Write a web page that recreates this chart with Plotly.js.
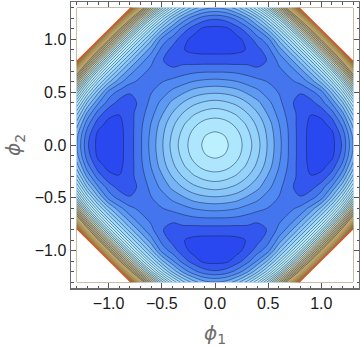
<!DOCTYPE html>
<html>
<head>
<meta charset="utf-8">
<script src="https://cdn.plot.ly/plotly-3.0.1.min.js"></script>
<style>
  html, body { margin: 0; padding: 0; background: #fff; }
  #chart { width: 360px; height: 347px; }
</style>
</head>
<body>
<div id="chart"></div>
<script>
// Grid positions for one quadrant of the surface (the picture is symmetric)
const phiSteps = [0, 0.1, 0.2, 0.3, 0.4, 0.5, 0.6, 0.7, 0.8, 0.9, 1.0, 1.1, 1.2, 1.3];

const row00 = [1.01, 0.99, 0.93, 0.83, 0.71, 0.56, 0.41, 0.26, 0.13, 0.04, 0.00, 0.04, 0.19, 0.48];
const row01 = [0.99, 0.97, 0.91, 0.81, 0.69, 0.55, 0.40, 0.26, 0.13, 0.04, 0.01, 0.05, 0.22, 0.51];
const row02 = [0.93, 0.91, 0.85, 0.76, 0.65, 0.52, 0.38, 0.25, 0.13, 0.05, 0.04, 0.12, 0.31, 0.62];
const row03 = [0.83, 0.81, 0.76, 0.68, 0.58, 0.46, 0.34, 0.23, 0.14, 0.08, 0.11, 0.23, 0.45, 0.81];
const row04 = [0.71, 0.69, 0.65, 0.58, 0.50, 0.40, 0.31, 0.19, 0.15, 0.14, 0.23, 0.39, 0.66, 1.07];
const row05 = [0.56, 0.55, 0.52, 0.46, 0.40, 0.33, 0.27, 0.19, 0.18, 0.24, 0.34, 0.60, 0.94, 1.43];
const row06 = [0.41, 0.40, 0.38, 0.34, 0.31, 0.27, 0.25, 0.25, 0.30, 0.41, 0.60, 0.89, 1.31, 1.89];
const row07 = [0.26, 0.26, 0.25, 0.23, 0.19, 0.19, 0.25, 0.31, 0.42, 0.61, 0.88, 1.26, 1.78, 2.47];
const row08 = [0.13, 0.13, 0.13, 0.14, 0.15, 0.18, 0.30, 0.42, 0.61, 0.88, 1.24, 1.73, 2.36, 3.18];
const row09 = [0.04, 0.04, 0.05, 0.08, 0.14, 0.24, 0.41, 0.61, 0.88, 1.24, 1.71, 2.31, 3.08, 4.03];
const row10 = [0.00, 0.01, 0.04, 0.11, 0.23, 0.34, 0.60, 0.88, 1.24, 1.71, 2.30, 3.04, 3.95, 5.05];
const row11 = [0.04, 0.05, 0.12, 0.23, 0.39, 0.60, 0.89, 1.26, 1.73, 2.31, 3.04, 3.92, 4.99, 6.27];
const row12 = [0.19, 0.22, 0.31, 0.45, 0.66, 0.94, 1.31, 1.78, 2.36, 3.08, 3.95, 4.99, 6.23, 7.70];
const row13 = [0.48, 0.51, 0.62, 0.81, 1.07, 1.43, 1.89, 2.47, 3.18, 4.03, 5.05, 6.27, 7.70, 9.40];
const quadrant = [row00, row01, row02, row03, row04, row05, row06, row07, row08, row09, row10, row11, row12, row13];

// Colour ramp: height -> colour
const rampValues = [0, 0.10, 0.20, 0.35, 0.50, 0.70, 1.00, 1.40, 1.70, 2.20, 2.70, 3.00, 3.20];
const rampColors = ['#2948f0', '#3d66ec', '#4a80f0', '#5a96f3', '#80bdf7', '#98d6fb', '#bdf2ff', '#b4e2e6', '#cfcfa8', '#c9b477', '#a88d55', '#8d7038', '#c9682e'];

// Corners cut off the octagon, and its red edge
const cutX = [0.79, 1.3, 1.3, 0.79, null, -0.79, -1.3, -1.3, -0.79, null, 0.79, 1.3, 1.3, 0.79, null, -0.79, -1.3, -1.3, -0.79];
const cutY = [1.3, 0.79, 1.3, 1.3, null, 1.3, 0.79, 1.3, 1.3, null, -1.3, -0.79, -1.3, -1.3, null, -1.3, -0.79, -1.3, -1.3];
const edgeX = [0.79, 1.3, null, -0.79, -1.3, null, 0.79, 1.3, null, -0.79, -1.3];
const edgeY = [1.3, 0.79, null, 1.3, 0.79, null, -1.3, -0.79, null, -1.3, -0.79];

const tickValues = [-1, -0.5, 0, 0.5, 1];

// Mirror the quadrant out to the full square
function mirrorAxis(values) {
    return values.slice(1).reverse().map(v => -v).concat(values);
}

function mirrorGrid(rows) {
    const fullRows = rows.map(r => r.slice(1).reverse().concat(r));
    return fullRows.slice(1).reverse().concat(fullRows);
}

const phi = mirrorAxis(phiSteps);
const surface = mirrorGrid(quadrant);
const zTop = rampValues[rampValues.length - 1];
const colorscale = rampValues.map((v, i) => [v / zTop, rampColors[i]]);

const bands = {
    type: 'contour', x: phi, y: phi, z: surface,
    zmin: 0, zmax: zTop, colorscale: colorscale, showscale: false,
    autocontour: false,
    contours: {start: 0.075, end: 3.2, size: 0.1, coloring: 'fill', showlines: false},
    line: {width: 0, smoothing: 1},
    hoverinfo: 'skip'
};

const lines = {
    type: 'contour', x: phi, y: phi, z: surface,
    showscale: false, autocontour: false,
    contours: {start: 0.075, end: 2.3, size: 0.1, coloring: 'none'},
    line: {color: 'rgba(20,30,70,0.55)', width: 0.9, smoothing: 1},
    hoverinfo: 'skip'
};

const cuts = {
    type: 'scatter', mode: 'lines', x: cutX, y: cutY,
    fill: 'toself', fillcolor: '#ffffff', line: {width: 0},
    hoverinfo: 'skip', showlegend: false
};

const edge = {
    type: 'scatter', mode: 'lines', x: edgeX, y: edgeY,
    line: {color: '#d8562a', width: 1.5},
    hoverinfo: 'skip', showlegend: false
};

function axisStyle(titleHtml, standoff) {
    return {
        range: [-1.354, 1.354],
        title: {text: titleHtml, font: {family: '"DejaVu Sans", sans-serif', size: 20, color: '#6e6e6e'}, standoff: standoff},
        tickmode: 'array', tickvals: tickValues, tickformat: '.1f',
        ticks: 'inside', ticklen: 5, tickwidth: 1, tickcolor: '#555555',
        minor: {dtick: 0.1, ticks: 'inside', ticklen: 2.5, tickwidth: 1, tickcolor: '#555555'},
        tickfont: {family: '"Liberation Sans", sans-serif', size: 16, color: '#1a1a1a'},
        showline: true, linecolor: '#6b6b6b', linewidth: 1.5, mirror: 'ticks',
        showgrid: false, zeroline: false
    };
}

const layout = {
    width: 360, height: 347,
    margin: {l: 71, r: 1, t: 2, b: 59},
    paper_bgcolor: '#ffffff', plot_bgcolor: '#ffffff',
    showlegend: false,
    xaxis: axisStyle('<i>ϕ</i><sub>1</sub>', 16),
    yaxis: axisStyle('<i>ϕ</i><sub>2</sub>', 8)
};

Plotly.newPlot('chart', [bands, lines, cuts, edge], layout, {displayModeBar: false, staticPlot: true});
</script>
</body>
</html>
